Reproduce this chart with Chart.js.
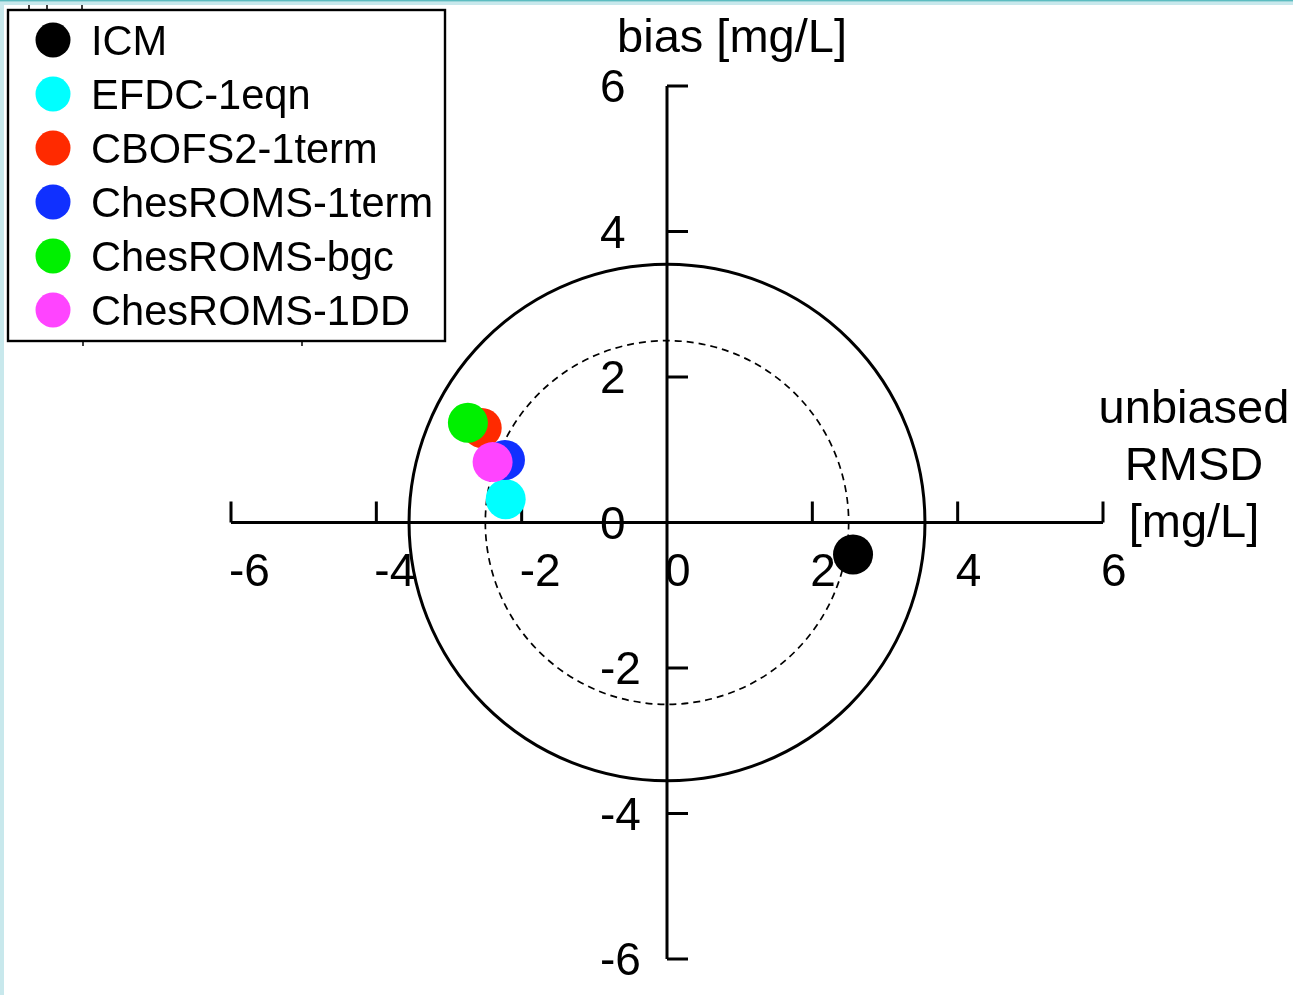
<!DOCTYPE html>
<html>
<head>
<meta charset="utf-8">
<script src="https://cdn.jsdelivr.net/npm/chart.js@4.4.0/dist/chart.umd.min.js"></script>
<style>
html, body { margin: 0; padding: 0; background: #fff; overflow: hidden; }
canvas { display: block; }
</style>
</head>
<body>
<canvas id="chartTarget" width="1293" height="995"></canvas>
<script>
// model names, colours and target diagram coordinates
const modelNames = ['ICM', 'EFDC-1eqn', 'CBOFS2-1term', 'ChesROMS-1term', 'ChesROMS-bgc', 'ChesROMS-1DD'];
const modelColors = ['#000000', '#00ffff', '#ff2a00', '#1030ff', '#00f000', '#ff44ff'];
const unbiasedRmsd = [2.56, -2.22, -2.55, -2.23, -2.74, -2.40];
const biasValues = [-0.44, 0.32, 1.30, 0.86, 1.37, 0.83];
const axisTicks = [-6, -4, -2, 0, 2, 4, 6];
const tickLabels = ['-6', '-4', '-2', '0', '2', '4', '6'];
const refCircles = [3.55, 2.5];   // solid, dashed

const FONT = '"Liberation Sans", Arial, Helvetica, sans-serif';

// frame + reference circles + axes, drawn under the points
const targetAxes = {
  id: 'targetAxes',
  beforeDraw(chart) {
    const ctx = chart.ctx;
    ctx.save();
    ctx.fillStyle = '#c8e8ec';
    ctx.fillRect(0, 0, chart.width, 5);
    ctx.fillRect(0, 0, 4, chart.height);
    ctx.fillStyle = '#5cbcc0';
    ctx.fillRect(0, 0, chart.width, 1.4);
    ctx.restore();
  },
  beforeDatasetsDraw(chart) {
    const ctx = chart.ctx;
    const x = chart.scales.x, y = chart.scales.y;
    const x0 = x.getPixelForValue(0), y0 = y.getPixelForValue(0);
    ctx.save();
    ctx.strokeStyle = '#000';

    // circles
    refCircles.forEach((r, i) => {
      const rx = x.getPixelForValue(r) - x0;
      const ry = y0 - y.getPixelForValue(r);
      ctx.beginPath();
      ctx.ellipse(x0, y0, rx, ry, 0, 0, Math.PI * 2);
      ctx.lineWidth = i === 0 ? 3 : 1.7;
      ctx.setLineDash(i === 0 ? [] : [7, 5]);
      ctx.stroke();
    });
    ctx.setLineDash([]);

    // axes
    ctx.lineWidth = 3;
    ctx.beginPath();
    ctx.moveTo(x.getPixelForValue(axisTicks[0]), y0);
    ctx.lineTo(x.getPixelForValue(axisTicks[axisTicks.length - 1]), y0);
    ctx.moveTo(x0, y.getPixelForValue(axisTicks[axisTicks.length - 1]));
    ctx.lineTo(x0, y.getPixelForValue(axisTicks[0]));
    axisTicks.forEach(t => {
      const px = x.getPixelForValue(t);
      ctx.moveTo(px, y0);
      ctx.lineTo(px, y0 - 21);
      const py = y.getPixelForValue(t);
      ctx.moveTo(x0, py);
      ctx.lineTo(x0 + 21, py);
    });
    ctx.stroke();

    // tick labels
    ctx.fillStyle = '#000';
    ctx.font = '46px ' + FONT;
    ctx.textAlign = 'left';
    ctx.textBaseline = 'alphabetic';
    axisTicks.forEach((t, i) => {
      ctx.fillText(tickLabels[i], x.getPixelForValue(t) - 2, y0 + 63);
      ctx.fillText(tickLabels[i], x0 - 67, y.getPixelForValue(t) + 16);
    });
    ctx.restore();
  },
  afterDraw(chart) {
    const ctx = chart.ctx;
    ctx.save();
    ctx.fillStyle = '#000';
    ctx.strokeStyle = '#000';

    // axis titles
    ctx.font = '47px ' + FONT;
    ctx.textAlign = 'center';
    ctx.textBaseline = 'alphabetic';
    ctx.fillText('bias [mg/L]', 732, 52);
    ctx.fillText('unbiased', 1194, 423);
    ctx.fillText('RMSD', 1194, 480);
    ctx.fillText('[mg/L]', 1194, 537);

    // small leftover marks around the legend
    ctx.lineWidth = 1.5;
    ctx.beginPath();
    [29, 47, 82].forEach(px => { ctx.moveTo(px, 5); ctx.lineTo(px, 9); });
    [83, 302].forEach(px => { ctx.moveTo(px, 341); ctx.lineTo(px, 346); });
    ctx.stroke();

    // legend box
    ctx.fillStyle = '#fff';
    ctx.fillRect(8, 10, 437, 331);
    ctx.lineWidth = 2.4;
    ctx.strokeRect(8, 10, 437, 331);
    ctx.font = '41.6px ' + FONT;
    ctx.textAlign = 'left';
    modelNames.forEach((name, i) => {
      const cy = 40 + 54 * i;
      ctx.beginPath();
      ctx.arc(53, cy, 17.5, 0, Math.PI * 2);
      ctx.fillStyle = modelColors[i];
      ctx.fill();
      ctx.fillStyle = '#000';
      ctx.fillText(name, 91, cy + 15);
    });
    ctx.restore();
  }
};

// later models are drawn on top of earlier ones
const datasets = modelNames.map((name, i) => ({
  label: name,
  data: [{ x: unbiasedRmsd[i], y: biasValues[i] }],
  backgroundColor: modelColors[i],
  borderWidth: 0,
  pointRadius: 20,
  pointHoverRadius: 20,
  order: modelNames.length - i
}));

new Chart(document.getElementById('chartTarget'), {
  type: 'scatter',
  data: { datasets: datasets },
  options: {
    responsive: false,
    animation: false,
    events: [],
    layout: { padding: { left: 231, right: 190, top: 86, bottom: 36 } },
    plugins: { legend: { display: false }, tooltip: { enabled: false } },
    scales: {
      x: { type: 'linear', min: -6, max: 6, display: false },
      y: { type: 'linear', min: -6, max: 6, display: false }
    }
  },
  plugins: [targetAxes]
});
</script>
</body>
</html>
